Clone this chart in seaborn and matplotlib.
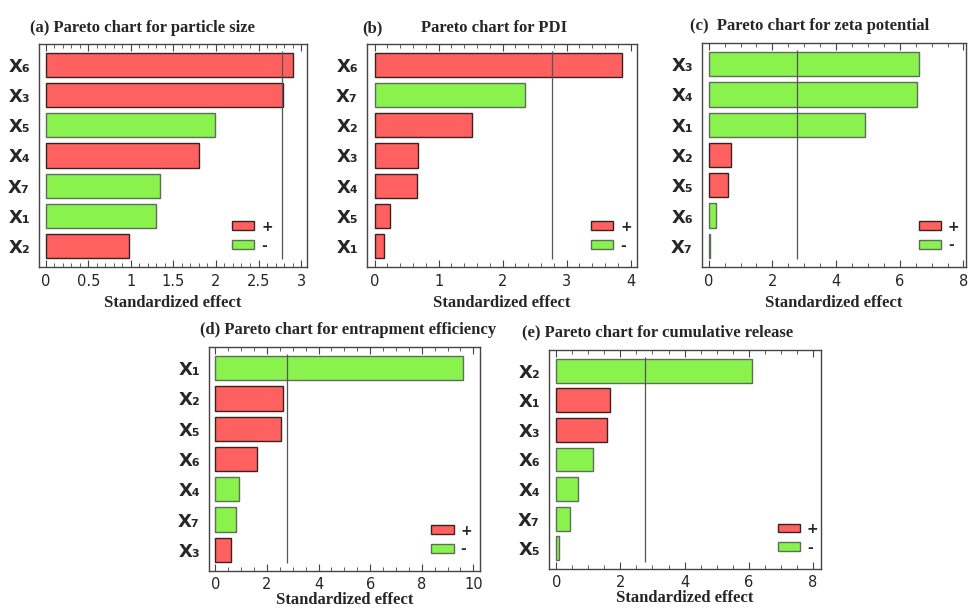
import pandas as pd
import matplotlib.pyplot as plt
import seaborn as sns
from matplotlib.patches import Patch
from matplotlib.ticker import MultipleLocator, AutoMinorLocator, FuncFormatter

# 데이터
factors_a = ['X₆', 'X₃', 'X₅', 'X₄', 'X₇', 'X₁', 'X₂']
effect_a = [2.90, 2.79, 1.99, 1.80, 1.34, 1.29, 0.98]
sign_a = ['+', '+', '-', '+', '-', '-', '+']

factors_b = ['X₆', 'X₇', 'X₂', 'X₃', 'X₄', 'X₅', 'X₁']
effect_b = [3.87, 2.35, 1.52, 0.68, 0.66, 0.24, 0.15]
sign_b = ['+', '-', '+', '+', '+', '+', '+']

factors_c = ['X₃', 'X₄', 'X₁', 'X₂', 'X₅', 'X₆', 'X₇']
effect_c = [6.60, 6.53, 4.92, 0.69, 0.61, 0.22, 0.03]
sign_c = ['-', '-', '-', '+', '+', '-', '-']

factors_d = ['X₁', 'X₂', 'X₅', 'X₆', 'X₄', 'X₇', 'X₃']
effect_d = [9.59, 2.63, 2.56, 1.63, 0.92, 0.78, 0.61]
sign_d = ['-', '+', '+', '+', '-', '-', '+']

factors_e = ['X₂', 'X₁', 'X₃', 'X₆', 'X₄', 'X₇', 'X₅']
effect_e = [6.12, 1.67, 1.59, 1.13, 0.66, 0.41, 0.08]
sign_e = ['-', '+', '+', '-', '-', '-', '-']

T_CRIT = 2.776

RED = '#ff6161'
GREEN = '#8af24c'
PALETTE = {'+': RED, '-': GREEN}
EDGE = {'+': '#3a2323', '-': '#5e6e5e'}

sns.set_style('ticks')
plt.rcParams['font.family'] = ['DejaVu Sans']

fig = plt.figure(figsize=(9.7, 6.11), dpi=100)
W, H = 970, 611


def px_axes(left, top, right, bottom):
    return fig.add_axes([left / W, 1 - bottom / H, (right - left) / W, (bottom - top) / H])


panels = [
    # factors, effect, sign, 픽셀 위치, xlim, major, minor, legend x, labelpad
    (factors_a, effect_a, sign_a, (39, 44, 307, 267), (-0.08, 3.07), 0.5, 5, 0.70, 4),
    (factors_b, effect_b, sign_b, (367, 44, 637, 267), (-0.12, 4.10), 1, 5, 0.81, 4),
    (factors_c, effect_c, sign_c, (702, 43, 966, 267), (-0.21, 8.08), 2, 4, 0.80, 4),
    (factors_d, effect_d, sign_d, (209, 347, 480, 571), (-0.25, 10.26), 2, 4, 0.80, 0),
    (factors_e, effect_e, sign_e, (549, 350, 821, 569), (-0.23, 8.26), 2, 4, 0.82, 0),
]

for factors, effect, sign, box, xlim, major, minor, lx, lpad in panels:
    ax = px_axes(*box)
    df = pd.DataFrame({'factor': factors, 'effect': effect, 'sign': sign})
    sns.barplot(data=df, x='effect', y='factor', hue='sign', palette=PALETTE,
                dodge=False, width=0.8, legend=False, ax=ax, orient='h',
                saturation=1)
    # 막대 테두리 색
    for bar_container, s in zip(ax.containers, list(df['sign'].unique())):
        for p in bar_container:
            p.set_edgecolor(EDGE[s])
            p.set_linewidth(1.0)
    ax.vlines(T_CRIT, -0.48, 6.45, color='#555555', linewidth=0.9, zorder=3)
    ax.set_xlim(*xlim)
    ax.set_ylim(6.7, -0.7)
    ax.xaxis.set_major_locator(MultipleLocator(major))
    ax.xaxis.set_minor_locator(AutoMinorLocator(minor))
    ax.xaxis.set_major_formatter(FuncFormatter(lambda v, pos: f'{v:g}'))
    ax.tick_params(axis='x', which='both', direction='in', top=True, bottom=True,
                   color='#444444', labelsize=10.5, pad=5 if lpad else 4)
    ax.tick_params(axis='x', which='major', length=5)
    ax.tick_params(axis='x', which='minor', length=3)
    ax.tick_params(axis='y', left=False, pad=3)
    for lab in ax.get_yticklabels():
        lab.set_fontweight('bold')
        lab.set_fontsize(13)
    for sp in ax.spines.values():
        sp.set_visible(True)
        sp.set_color('#444444')
        sp.set_linewidth(1.0)
    ax.set_ylabel('')
    ax.set_xlabel('Standardized effect', family='Liberation Serif', fontweight='bold',
                  fontsize=12, labelpad=lpad)
    handles = [Patch(facecolor=RED, edgecolor='#3a2323', label='+'),
               Patch(facecolor=GREEN, edgecolor='#5e6e5e', label='-')]
    ax.legend(handles=handles, loc='lower left', bbox_to_anchor=(lx, 0.04),
              frameon=False, handlelength=1.6, handleheight=0.6,
              labelspacing=0.35, handletextpad=0.5, borderaxespad=0,
              prop={'weight': 'bold', 'size': 10})

title_kw = dict(family='Liberation Serif', fontweight='bold', fontsize=12, va='center')
fig.text(30 / W, 1 - 28 / H, '(a) Pareto chart for particle size', **title_kw)
fig.text(362 / W, 1 - 28 / H, '(b)', **title_kw)
fig.text(421 / W, 1 - 28 / H, 'Pareto chart for PDI', **title_kw)
fig.text(690 / W, 1 - 26 / H, '(c)  Pareto chart for zeta potential', **title_kw)
fig.text(200 / W, 1 - 330 / H, '(d) Pareto chart for entrapment efficiency', **title_kw)
fig.text(522 / W, 1 - 332 / H, '(e) Pareto chart for cumulative release', **title_kw)

fig.savefig('out.png', dpi=100)
